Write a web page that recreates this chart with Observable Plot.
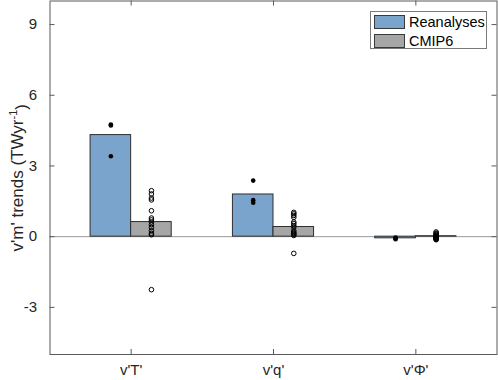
<!DOCTYPE html>
<html><head><meta charset="utf-8">
<script src="https://cdn.jsdelivr.net/npm/d3@7"></script>
<script src="https://cdn.jsdelivr.net/npm/@observablehq/plot@0.6"></script>
<style>
body{margin:0;background:#fff;}
#chart{position:relative;width:498px;height:380px;font-family:"Liberation Sans",Arial,Helvetica,sans-serif;}
#legend{position:absolute;left:370px;top:11px;width:115px;height:36px;border:1px solid #7a7a7a;background:#fff;font-size:14.5px;color:#000;}
#legend .row{position:absolute;left:3px;height:14px;display:flex;align-items:center;}
#legend .sw{width:31px;height:14px;border:1px solid #3a3a3a;box-sizing:border-box;margin-right:4px;}
</style></head><body>
<div id="chart"></div>
<script>
const categories = ["v'T'", "v'q'", "v'Φ'"];
const seriesNames = ["Reanalyses", "CMIP6"];
const reanalysesMean = [4.31, 1.79, -0.07];
const cmip6Mean = [0.62, 0.41, 0.02];
const reanalysesMembers = [
  [4.76, 4.72, 3.41],
  [2.38, 1.55, 1.44],
  [-0.04, -0.08, -0.11]
];
const cmip6Members = [
  [1.95, 1.81, 1.64, 1.56, 1.10, 0.79, 0.71, 0.62, 0.51, 0.39, 0.25, 0.14, 0.08, -2.25],
  [1.03, 0.97, 0.90, 0.82, 0.62, 0.55, 0.47, 0.40, 0.25, 0.18, 0.14, 0.10, 0.05, -0.71],
  [0.20, 0.15, 0.12, 0.08, 0.05, 0.02, 0.00, -0.02, -0.04, -0.05, -0.07, -0.09, -0.11, -0.13]
];
const yTicks = [-3, 0, 3, 6, 9];
const xTicks = [1, 2, 3];
const colors = ["#7ba4cc", "#a6a6a6"];

const W = 498, H = 380;
const mL = 49.5, mR = 1.5, mT = 0.5, mB = 26;
const plotW = W - mL - mR, plotH = H - mT - mB;
const bw = 0.285; // bar width in category units

const bars = [];
categories.forEach((c, i) => {
  bars.push({x1: i + 1 - bw, x2: i + 1, v: reanalysesMean[i], s: 0});
  bars.push({x1: i + 1, x2: i + 1 + bw, v: cmip6Mean[i], s: 1});
});
const rDots = [], cDots = [];
categories.forEach((c, i) => {
  reanalysesMembers[i].forEach(v => rDots.push({x: i + 1 - bw / 2, v}));
  cmip6Members[i].forEach(v => cDots.push({x: i + 1 + bw / 2, v}));
});

const axisColor = "#5a5a5a";
const yLabelText = "v'm' trends (TWyr-1)";

const plot = Plot.plot({
  width: W, height: H,
  marginLeft: mL, marginRight: mR, marginTop: mT, marginBottom: mB,
  style: {fontFamily: '"Liberation Sans", Arial, Helvetica, sans-serif', fontSize: "15px", color: "#262626", background: "#fff"},
  x: {type: "linear", domain: [0.43, 3.57]},
  y: {type: "linear", domain: [-5, 10]},
  marks: [
    Plot.ruleY([0], {stroke: "#9a9a9a", strokeWidth: 1}),
    Plot.rect(bars, {x1: "x1", x2: "x2", y1: 0, y2: "v", fill: d => colors[d.s], stroke: "#2e2e2e", strokeWidth: 1}),
    Plot.dot(rDots, {x: "x", y: "v", r: 2.3, fill: "#000", stroke: "none"}),
    Plot.dot(cDots, {x: "x", y: "v", r: 2.3, fill: "none", stroke: "#000", strokeWidth: 1}),
    Plot.tickY(yTicks, {y: d => d, insetRight: plotW - 5, stroke: axisColor}),
    Plot.tickY(yTicks, {y: d => d, insetLeft: plotW - 5, stroke: axisColor}),
    Plot.tickX(xTicks, {x: d => d, insetTop: plotH - 5, stroke: axisColor}),
    Plot.tickX(xTicks, {x: d => d, insetBottom: plotH - 5, stroke: axisColor}),
    Plot.frame({stroke: axisColor, strokeWidth: 1}),
    Plot.axisY({ticks: yTicks, tickSize: 0, tickPadding: 13, label: null, fontSize: 15, tickFormat: d => String(d), fill: "#262626"}),
    Plot.axisX({ticks: xTicks, tickSize: 0, tickPadding: 10, label: null, fontSize: 15, tickFormat: d => categories[d - 1], fill: "#262626"}),
    Plot.text([yLabelText], {frameAnchor: "left", textAnchor: "middle", lineAnchor: "middle", text: d => d, rotate: -90, dx: -32, fontSize: 17, fill: "#262626"})
  ]
});

const chart = document.getElementById("chart");
chart.appendChild(plot);

// superscript for the unit label
d3.select(plot).selectAll("text").filter(function() { return this.textContent === yLabelText; })
  .each(function() {
    const t = d3.select(this);
    t.text(null);
    t.append("tspan").text("v'm' trends (TWyr");
    t.append("tspan").attr("dy", "-0.55em").attr("font-size", "0.65em").text("-1");
    t.append("tspan").attr("dy", "0.55em").text(")");
  });

// legend
const legend = document.createElement("div");
legend.id = "legend";
seriesNames.forEach((name, i) => {
  const row = document.createElement("div");
  row.className = "row";
  row.style.top = (3 + i * 18.5) + "px";
  const sw = document.createElement("div");
  sw.className = "sw";
  sw.style.background = colors[i];
  const lab = document.createElement("span");
  lab.textContent = name;
  row.appendChild(sw);
  row.appendChild(lab);
  legend.appendChild(row);
});
chart.appendChild(legend);
</script>
</body></html>
